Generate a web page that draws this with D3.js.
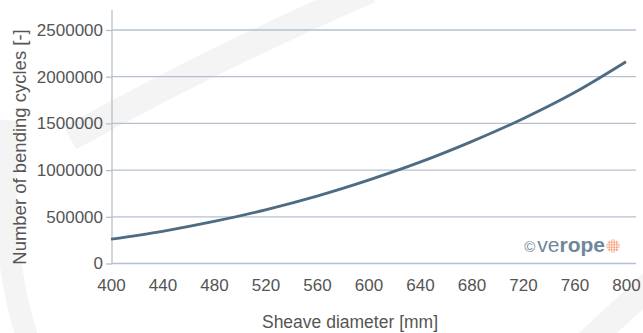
<!DOCTYPE html>
<html>
<head>
<meta charset="utf-8">
<script src="https://cdn.jsdelivr.net/npm/d3@7"></script>
<style>
  body { margin: 0; background: #fff; }
  text { font-family: "Liberation Sans", Arial, sans-serif; }
</style>
</head>
<body>
<script>
var width = 643,
  height = 333;

// sheave diameter [mm] -> bending cycles
var diameters = [400, 440, 480, 520, 560, 600, 640, 680, 720, 760, 800];
var cycles = [260000, 345000, 450000, 575000, 722000, 893000, 1085000, 1305000, 1550000, 1830000, 2160000];
var xTicks = [400, 440, 480, 520, 560, 600, 640, 680, 720, 760, 800];
var yTicks = [0, 500000, 1000000, 1500000, 2000000, 2500000];

var svg = d3.select('body').append('svg')
  .attr('width', width)
  .attr('height', height);

// faint watermark shapes in the background
var wm = svg.append('g')
  .attr('fill', 'none')
  .attr('stroke', '#f4f4f4');
wm.append('path')
  .attr('d', 'M70,138 Q210,60 370,-10')
  .attr('stroke-width', 26);
wm.append('path')
  .attr('d', 'M28,340 Q-2,250 8,120')
  .attr('stroke-width', 22);
wm.append('path')
  .attr('d', 'M585,345 L655,280')
  .attr('stroke-width', 26);

var x = d3.scaleLinear().domain([400, 800]).range([111, 626]);
var y = d3.scaleLinear().domain([0, 2500000]).range([263.5, 30]);

// gridlines
svg.append('g')
  .selectAll('line')
  .data(yTicks)
  .enter().append('line')
    .attr('x1', 112)
    .attr('x2', 636)
    .attr('y1', function(d) { return y(d); })
    .attr('y2', function(d) { return y(d); })
    .attr('stroke', '#b5c0cf')
    .attr('stroke-width', 1.3);

// y axis
var yAxis = svg.append('g')
  .attr('transform', 'translate(112,0)')
  .call(d3.axisLeft(y).tickValues(yTicks).tickSize(6).tickPadding(3).tickFormat(d3.format('d')));
yAxis.select('.domain').remove();
yAxis.selectAll('line').attr('stroke', '#b5c0cf').attr('stroke-width', 1.3);
yAxis.selectAll('text')
  .attr('fill', '#555')
  .style('font-size', '17px');

svg.append('line')
  .attr('x1', 112).attr('x2', 112)
  .attr('y1', 10).attr('y2', 264)
  .attr('stroke', '#b5c0cf')
  .attr('stroke-width', 1.3);

// x axis (labels only)
var xAxis = svg.append('g')
  .attr('transform', 'translate(0,264)')
  .call(d3.axisBottom(x).tickValues(xTicks).tickSize(0).tickPadding(15).tickFormat(d3.format('d')));
xAxis.select('.domain').remove();
xAxis.selectAll('text')
  .attr('fill', '#555')
  .style('font-size', '17px');

// curve
var line = d3.line()
  .x(function(d, i) { return x(diameters[i]); })
  .y(function(d) { return y(d); })
  .curve(d3.curveMonotoneX);

svg.append('path')
  .datum(cycles)
  .attr('fill', 'none')
  .attr('stroke', '#4d6b82')
  .attr('stroke-width', 2.8)
  .attr('d', line);

// axis titles
svg.append('text')
  .attr('x', 350)
  .attr('y', 328)
  .attr('text-anchor', 'middle')
  .attr('fill', '#555')
  .style('font-size', '17.5px')
  .text('Sheave diameter [mm]');

svg.append('text')
  .attr('transform', 'translate(26,147) rotate(-90)')
  .attr('text-anchor', 'middle')
  .attr('fill', '#555')
  .style('font-size', '18.5px')
  .text('Number of bending cycles [-]');

// verope mark
var logo = svg.append('text')
  .attr('x', 605)
  .attr('y', 252)
  .attr('text-anchor', 'end')
  .attr('fill', '#6f879a')
  .style('font-size', '21px');
logo.append('tspan').style('font-size', '15px').text('\u00a9');
logo.append('tspan').attr('dx', 2).style('font-weight', 'normal').text('ve');
logo.append('tspan').style('font-weight', 'bold').text('rope');

var dots = svg.append('g').attr('transform', 'translate(613,246)');
dots.append('circle').attr('r', 6.5).attr('fill', '#f8a27a');
var dotPos = [];
for (var i = -2; i <= 2; i++) for (var j = -2; j <= 2; j++) if (i * i + j * j <= 5) dotPos.push([i * 2.5, j * 2.5]);
dots.selectAll('rect')
  .data(dotPos)
  .enter().append('circle')
    .attr('cx', function(d) { return d[0]; })
    .attr('cy', function(d) { return d[1]; })
    .attr('r', 0.9)
    .attr('fill', '#fff');
</script>
</body>
</html>
